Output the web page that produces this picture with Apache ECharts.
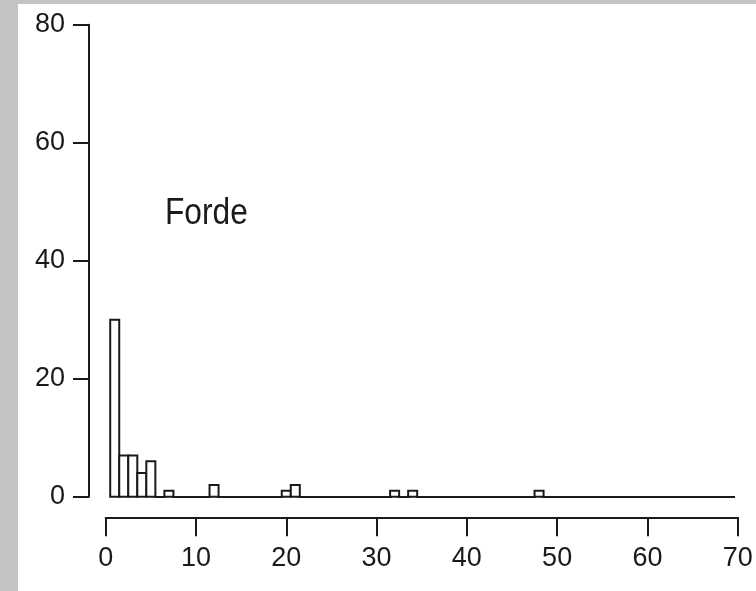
<!DOCTYPE html>
<html>
<head>
<meta charset="utf-8">
<script src="https://cdn.jsdelivr.net/npm/echarts@6/dist/echarts.min.js"></script>
<style>
html,body{margin:0;padding:0;background:#c3c3c3;width:756px;height:591px;overflow:hidden;}
#c{position:absolute;left:18px;top:4px;width:738px;height:587px;background:#fff;}
</style>
</head>
<body>
<div id="c"></div>
<script>
// histogram bins centred on integers 1..69 (width 1)
const binCenters = [];
for (let i = 1; i <= 69; i++) binCenters.push(i);
const nonZeroBins = [1, 2, 3, 4, 5, 7, 12, 20, 21, 32, 34, 48];
const nonZeroCounts = [30, 7, 7, 4, 6, 1, 2, 1, 2, 1, 1, 1];
const xTicks = [0, 10, 20, 30, 40, 50, 60, 70];
const yTicks = [0, 20, 40, 60, 80];
const labelText = 'Forde';

const counts = binCenters.map(c => {
  const k = nonZeroBins.indexOf(c);
  return k >= 0 ? nonZeroCounts[k] : 0;
});
const data = binCenters.map((c, i) => [c, counts[i]]);

const FONT = '"Liberation Sans", Arial, sans-serif';
const INK = '#1a1a1a';

const chart = echarts.init(document.getElementById('c'), null, {renderer: 'canvas'});
chart.setOption({
  animation: false,
  backgroundColor: '#fff',
  grid: {left: 87.7, right: 18.3, top: 20.7, bottom: 94.3},
  xAxis: {
    type: 'value', min: xTicks[0], max: xTicks[xTicks.length - 1], interval: 10,
    offset: 20.6,
    axisLine: {show: true, onZero: false, lineStyle: {color: INK, width: 2}},
    axisTick: {show: true, length: 19, lineStyle: {color: INK, width: 2}},
    axisLabel: {color: INK, fontFamily: FONT, fontSize: 27, margin: 28},
    splitLine: {show: false}
  },
  yAxis: {
    type: 'value', min: yTicks[0], max: yTicks[yTicks.length - 1], interval: 20,
    offset: 16.7,
    axisLine: {show: true, onZero: false, lineStyle: {color: INK, width: 2}},
    axisTick: {show: true, length: 16, lineStyle: {color: INK, width: 2}},
    axisLabel: {color: INK, fontFamily: FONT, fontSize: 27, margin: 24},
    splitLine: {show: false}
  },
  series: [{
    type: 'custom',
    data: data,
    renderItem: function (params, api) {
      const c = api.value(0), v = api.value(1);
      const p0 = api.coord([c - 0.5, 0]);
      const p1 = api.coord([c + 0.5, v]);
      if (v === 0) {
        const yb = Math.round(p0[1]);
        const xa = Math.floor(p0[0]) - 1, xb = Math.ceil(p1[0]) + 1;
        return {type: 'rect', shape: {x: xa, y: yb - 1, width: xb - xa, height: 2},
          style: {fill: INK}};
      }
      return {type: 'rect',
        shape: {x: p0[0], y: p1[1], width: p1[0] - p0[0], height: p0[1] - p1[1]},
        style: {fill: '#fff', stroke: INK, lineWidth: 2}};
    }
  }],
  graphic: [{
    type: 'text', x: 147, y: 192, scaleX: 0.88,
    style: {text: labelText, fill: INK, font: '36px ' + FONT}
  }]
});
</script>
</body>
</html>
